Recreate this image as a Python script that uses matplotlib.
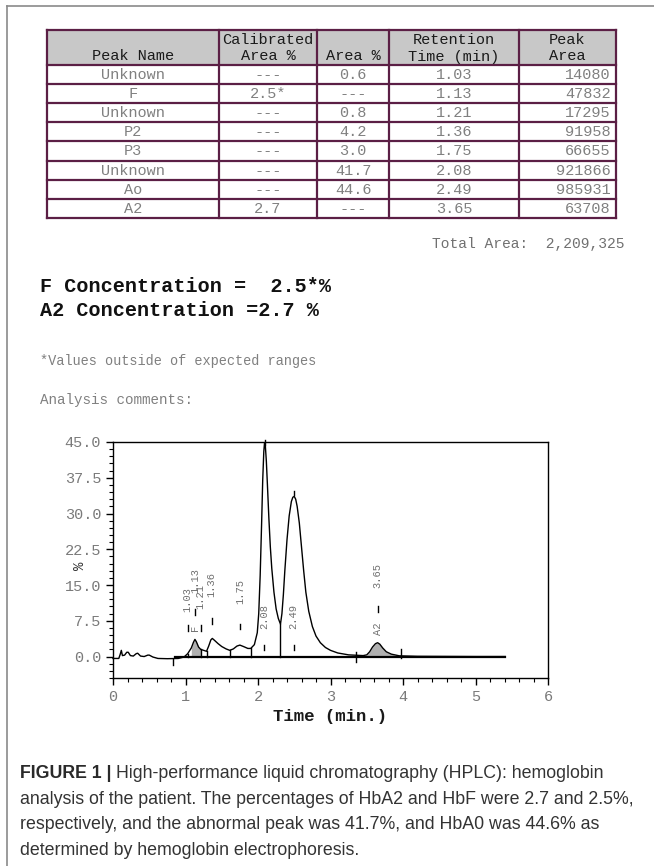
import numpy as np
import matplotlib
matplotlib.use('Agg')
import matplotlib.pyplot as plt
from matplotlib.patches import Rectangle
from matplotlib.ticker import MultipleLocator

# table data
headers = [['', 'Peak Name'], ['Calibrated', 'Area %'], ['', 'Area %'],
           ['Retention', 'Time (min)'], ['Peak', 'Area']]
peak_names = ['Unknown', 'F', 'Unknown', 'P2', 'P3', 'Unknown', 'Ao', 'A2']
calibrated = ['---', '2.5*', '---', '---', '---', '---', '---', '2.7']
area_pct = ['0.6', '---', '0.8', '4.2', '3.0', '41.7', '44.6', '---']
ret_time = ['1.03', '1.13', '1.21', '1.36', '1.75', '2.08', '2.49', '3.65']
peak_area = [14080, 47832, 17295, 91958, 66655, 921866, 985931, 63708]

# chromatogram trace (time min, %)
trace_t = [0.00, 0.08, 0.10, 0.115, 0.13, 0.16, 0.19, 0.21, 0.24, 0.28, 0.32, 0.34,
           0.38, 0.43, 0.48, 0.50, 0.55, 0.62, 0.75, 0.90, 0.98, 1.03, 1.08, 1.11,
           1.13, 1.15, 1.18, 1.21, 1.25, 1.29, 1.32, 1.35, 1.37, 1.40, 1.45, 1.50,
           1.56, 1.61, 1.66, 1.71, 1.75, 1.80, 1.86, 1.90, 1.95, 1.99, 2.01, 2.03,
           2.05, 2.065, 2.08, 2.09, 2.10, 2.115, 2.13, 2.15, 2.17, 2.19, 2.22, 2.25,
           2.28, 2.31, 2.33, 2.35, 2.37, 2.40, 2.43, 2.46, 2.48, 2.50, 2.52, 2.54,
           2.57, 2.60, 2.63, 2.66, 2.70, 2.75, 2.80, 2.86, 2.93, 3.00, 3.10, 3.25,
           3.45, 3.50, 3.54, 3.58, 3.62, 3.65, 3.68, 3.72, 3.77, 3.84, 3.95, 4.20,
           5.00, 5.41]
trace_v = [-0.4, -0.4, 0.5, 1.3, 0.2, 0.3, 0.9, 0.9, 0.2, 0.1, 0.6, 0.7,
           0.1, 0.0, 0.3, 0.3, -0.1, -0.4, -0.45, -0.4, -0.1, 0.6, 1.8, 3.0,
           3.6, 3.1, 2.0, 1.5, 1.3, 1.1, 2.2, 3.5, 3.8, 3.4, 2.7, 2.1,
           1.6, 1.3, 1.6, 2.2, 2.4, 2.1, 1.7, 1.7, 2.5, 5.0, 9.0, 17.0,
           28.0, 37.0, 43.0, 44.8, 44.5, 41.0, 36.0, 29.0, 23.0, 18.5, 13.5, 10.0,
           8.0, 6.8, 9.0, 13.0, 18.0, 24.5, 29.5, 32.5, 33.4, 33.6, 33.0, 31.5,
           28.0, 23.0, 18.0, 13.5, 9.5, 6.3, 4.3, 2.9, 1.9, 1.3, 0.75, 0.35,
           0.2, 0.35, 1.0, 2.0, 2.7, 2.9, 2.6, 1.8, 1.0, 0.5, 0.15, 0.05,
           0.0, 0.0]

# peak boundaries (drop lines)
boundary_t = [1.03, 1.21, 1.29, 1.61, 1.90, 2.31]
boundary_v = [0.6, 1.5, 1.1, 1.3, 1.7, 6.8]

# label placement for each retention time
label_base = [9.3, 13.4, 10.0, 12.4, 11.0, 5.8, 5.8, 14.3]
dash_v = [6.0, 9.4, 6.0, 7.5, 6.3, 1.9, 1.9, 10.0]

fig = plt.figure(figsize=(6.54, 8.66), dpi=100)
W, H = 654, 866
ov = fig.add_axes([0, 0, 1, 1])
ov.set_xlim(0, W)
ov.set_ylim(H, 0)
ov.axis('off')

mono = 'Liberation Mono'
border = '#5b1f45'

# outer frame
ov.plot([7, 7], [6, H], color='#8a8a8a', lw=1.2)
ov.plot([7, W], [6, 6], color='#8a8a8a', lw=1.2)

# table
cols = [47, 219, 317, 389, 519, 616]
top, head_bot, row_h = 30, 65, 19.1
nrows = len(peak_names)
tab_bot = head_bot + row_h * nrows
ov.add_patch(Rectangle((cols[0], top), cols[-1] - cols[0], head_bot - top,
                       facecolor='#c8c8c8', edgecolor='none'))
for c in cols:
    ov.plot([c, c], [top, tab_bot], color=border, lw=1.6)
ov.plot([cols[0], cols[-1]], [top, top], color=border, lw=1.6)
for i in range(nrows + 1):
    y = head_bot + row_h * i
    ov.plot([cols[0], cols[-1]], [y, y], color=border, lw=1.6)

for j, (h1, h2) in enumerate(headers):
    cx = (cols[j] + cols[j + 1]) / 2
    if h1:
        ov.text(cx, 40, h1, ha='center', va='center', fontsize=11,
                family=mono, color='#1a1a1a')
    ov.text(cx, 56.5, h2, ha='center', va='center', fontsize=11,
            family=mono, color='#1a1a1a')

for i in range(nrows):
    y = head_bot + row_h * i + row_h / 2 + 0.5
    vals = [peak_names[i], calibrated[i], area_pct[i], ret_time[i]]
    for j, v in enumerate(vals):
        cx = (cols[j] + cols[j + 1]) / 2
        ov.text(cx, y, v, ha='center', va='center', fontsize=11,
                family=mono, color='#808080')
    ov.text(cols[-1] - 5, y, str(peak_area[i]), ha='right', va='center',
            fontsize=11, family=mono, color='#808080')

ov.text(624, 244, 'Total Area:  {:,}'.format(sum(peak_area)), ha='right',
        va='center', fontsize=10.5, family=mono, color='#707070')
ov.text(40, 286, 'F Concentration =  2.5*%', ha='left', va='center',
        fontsize=14.5, family=mono, weight='bold', color='#111111')
ov.text(40, 311, 'A2 Concentration =2.7 %', ha='left', va='center',
        fontsize=14.5, family=mono, weight='bold', color='#111111')
ov.text(40, 361, '*Values outside of expected ranges', ha='left', va='center',
        fontsize=9.8, family=mono, color='#808080')
ov.text(40, 400, 'Analysis comments:', ha='left', va='center',
        fontsize=10.3, family=mono, color='#808080')

# caption
cap_font = 'Liberation Sans'
cap_size = 12.8
cap_lines = ['High-performance liquid chromatography (HPLC): hemoglobin',
             'analysis of the patient. The percentages of HbA2 and HbF were 2.7 and 2.5%,',
             'respectively, and the abnormal peak was 41.7%, and HbA0 was 44.6% as',
             'determined by hemoglobin electrophoresis.']
t0 = ov.text(20, 773, 'FIGURE 1 | ', ha='left', va='center', fontsize=cap_size,
             family=cap_font, weight='bold', color='#2a2a2a')
fig.canvas.draw()
bb = t0.get_window_extent(renderer=fig.canvas.get_renderer())
x_after = bb.x1 * W / fig.bbox.width
ov.text(x_after, 773, cap_lines[0], ha='left', va='center', fontsize=cap_size,
        family=cap_font, color='#333333')
for k, line in enumerate(cap_lines[1:]):
    ov.text(20, 799 + 25.7 * k, line, ha='left', va='center', fontsize=cap_size,
            family=cap_font, color='#333333')

# chromatogram
ax = fig.add_axes([113 / W, 1 - 678 / H, (548 - 113) / W, (678 - 442) / H])
ax.set_xlim(0, 6)
ax.set_ylim(-4.5, 45)
ax.plot(trace_t, trace_v, color='black', lw=1.0, clip_on=False)
ax.plot([0.85, 5.41], [0, 0], color='black', lw=1.6)

tt = np.array(trace_t)
vv = np.array(trace_v)
for lo, hi in [(1.05, 1.21), (3.50, 3.95)]:
    m = (tt >= lo) & (tt <= hi)
    ax.fill_between(tt[m], 0, vv[m], color='#b0b0b0', lw=0)

for bt, bv in zip(boundary_t, boundary_v):
    ax.plot([bt, bt], [0, bv], color='black', lw=1.0)

# baseline event ticks
for bt, y0, y1 in [(0.83, -1.8, -0.5), (3.35, -1.2, 1.0), (3.97, -0.3, 1.5)]:
    ax.plot([bt, bt], [y0, y1], color='black', lw=1.0)

# apex markers on the two main peaks
ax.plot([2.09, 2.09], [44.3, 45.5], color='black', lw=1.0, clip_on=False)
ax.plot([2.50, 2.50], [33.8, 34.8], color='black', lw=1.0)

for k, rt in enumerate(ret_time):
    x = float(rt)
    ax.plot([x, x], [dash_v[k] - 0.6, dash_v[k] + 0.6], color='black', lw=1.0)
    ax.text(x, label_base[k], rt, rotation=90, ha='center', va='bottom',
            fontsize=7.5, family=mono, color='#707070')
ax.text(1.13, 5.3, 'F', rotation=90, ha='center', va='bottom', fontsize=7.5,
        family=mono, color='#707070')
ax.text(3.65, 4.6, 'A2', rotation=90, ha='center', va='bottom', fontsize=7.5,
        family=mono, color='#707070')

yt = np.arange(0, 45.1, 7.5)
ax.set_yticks(yt)
ax.set_yticklabels(['%.1f' % v for v in yt])
ax.yaxis.set_minor_locator(MultipleLocator(1.5))
ax.xaxis.set_major_locator(MultipleLocator(1))
ax.xaxis.set_minor_locator(MultipleLocator(0.2))
ax.tick_params(which='major', direction='out', length=5, width=1.0,
               labelsize=11, labelcolor='#7a7a7a')
ax.tick_params(which='minor', direction='out', length=3, width=0.8)
for lab in ax.get_xticklabels() + ax.get_yticklabels():
    lab.set_family(mono)
for s in ax.spines.values():
    s.set_linewidth(1.0)

ax.set_xlabel('Time (min.)', fontsize=12.5, family=mono, weight='bold',
              color='#1a1a1a', labelpad=4)
ax.set_ylabel('%', fontsize=10, family=mono, color='#333333')
ax.yaxis.set_label_coords(-(113 - 87) / 435, (678 - 566) / 236)

fig.savefig('out.png', dpi=100)
